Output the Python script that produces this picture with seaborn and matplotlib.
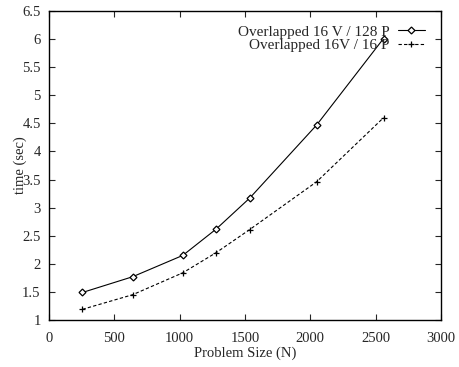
import pandas as pd
import seaborn as sns
import matplotlib.pyplot as plt

# Problem sizes and timings
sizes = [256, 640, 1024, 1280, 1536, 2048, 2560]
time_128p = [1.49, 1.77, 2.15, 2.62, 3.17, 4.47, 6.01]
time_16p = [1.19, 1.45, 1.84, 2.20, 2.61, 3.46, 4.60]
labels = ["Overlapped 16 V / 128 P", "Overlapped 16V / 16 P"]

df = pd.DataFrame({
    "N": sizes * 2,
    "time": time_128p + time_16p,
    "series": [labels[0]] * len(sizes) + [labels[1]] * len(sizes),
})

sns.set_style("ticks")
plt.rcParams["font.family"] = ["Liberation Serif", "DejaVu Serif"]

fig = plt.figure(figsize=(4.59, 3.67), dpi=100)
ax = fig.add_axes([49 / 459, 1 - 320 / 367, 392 / 459, 309 / 367])

sns.lineplot(
    data=df[df.series == labels[0]], x="N", y="time", ax=ax,
    color="black", linewidth=0.8, marker="D", markersize=3.5,
    markerfacecolor="white", markeredgecolor="black", markeredgewidth=0.9,
    label=labels[0],
)
sns.lineplot(
    data=df[df.series == labels[1]], x="N", y="time", ax=ax,
    color="black", linewidth=0.8, linestyle=(0, (3, 2)), marker="+",
    markersize=5, markeredgecolor="black", markeredgewidth=0.9,
    label=labels[1],
)

ax.set_xlim(0, 3000)
ax.set_ylim(1, 6.5)
ax.set_xticks(range(0, 3001, 500))
ax.set_yticks([1, 1.5, 2, 2.5, 3, 3.5, 4, 4.5, 5, 5.5, 6, 6.5])
ax.set_yticklabels(["1", "1.5", "2", "2.5", "3", "3.5", "4", "4.5", "5", "5.5", "6", "6.5"])
ax.tick_params(direction="in", top=True, right=True, length=4, width=0.8,
               labelsize=10.5)
ax.tick_params(axis="x", pad=8.5)
ax.tick_params(axis="y", pad=6)
for s in ax.spines.values():
    s.set_linewidth(1.0)
    s.set_color("black")

ax.set_xlabel("Problem Size (N)", fontsize=10.5, labelpad=1)
# the label sits on top of the 3.5 tick label, as in the original
ax.set_ylabel("time (sec)", fontsize=10.5)
ax.yaxis.set_label_coords(-0.055, 0.50)

leg = ax.legend(loc="upper right", bbox_to_anchor=(0.975, 0.975), frameon=False,
                markerfirst=False, fontsize=11, handlelength=1.8,
                handletextpad=0.5, labelspacing=0.0, borderaxespad=0)
for t in leg.get_texts():
    t.set_ha("right")
leg._legend_box.align = "right"

fig.savefig("out.png", dpi=100)
